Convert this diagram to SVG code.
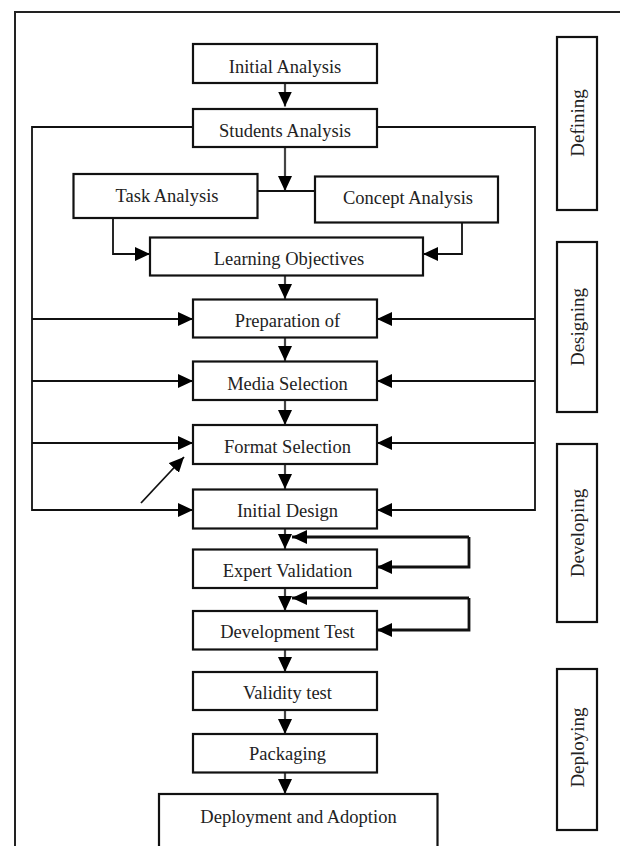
<svg xmlns="http://www.w3.org/2000/svg" width="620" height="846" viewBox="0 0 620 846">
<style>
.box{fill:#fff;stroke:#111;stroke-width:2.2}
.ph{fill:#fff;stroke:#111;stroke-width:2.2}
.t{font-family:"Liberation Serif","Times New Roman",serif;font-size:18.5px;fill:#222;text-anchor:middle}
.pt{font-size:19px}
.c{fill:none;stroke:#111;stroke-width:1.8}
.stem{fill:none;stroke:#444;stroke-width:2.2}
.thick{fill:none;stroke:#111;stroke-width:2.8}
</style>
<defs>
<marker id="ah" viewBox="0 0 15 14" markerWidth="15" markerHeight="14" refX="15" refY="7" orient="auto" markerUnits="userSpaceOnUse">
<path d="M0,0 L15,7 L0,14 z" fill="#000"/>
</marker>
</defs>
<rect x="15" y="12" width="640" height="860" fill="none" stroke="#222" stroke-width="2"/>

<g id="connectors">
<line class="stem" x1="285" y1="83" x2="285" y2="106.5" marker-end="url(#ah)"/>
<line class="stem" x1="285" y1="147" x2="285" y2="191" stroke-width="3" marker-end="url(#ah)"/>
<line class="c" x1="258" y1="191" x2="315" y2="191"/>
<polyline class="c" points="113,218 113,254 150,254" stroke-width="2.2" marker-end="url(#ah)"/>
<polyline class="c" points="462,222 462,254 423,254" stroke-width="2.2" marker-end="url(#ah)"/>
<line class="stem" x1="285" y1="276" x2="285" y2="299" marker-end="url(#ah)"/>
<line class="stem" x1="285" y1="338" x2="285" y2="361" marker-end="url(#ah)"/>
<line class="stem" x1="285" y1="400" x2="285" y2="425" marker-end="url(#ah)"/>
<line class="stem" x1="285" y1="464" x2="285" y2="489" marker-end="url(#ah)"/>
<line class="stem" x1="285" y1="528" x2="285" y2="549" marker-end="url(#ah)"/>
<line class="stem" x1="285" y1="588" x2="285" y2="611" marker-end="url(#ah)"/>
<line class="stem" x1="285" y1="649" x2="285" y2="672" marker-end="url(#ah)"/>
<line class="stem" x1="285" y1="710" x2="285" y2="734" marker-end="url(#ah)"/>
<line class="stem" x1="285" y1="773" x2="285" y2="794" marker-end="url(#ah)"/>
<polyline class="c" points="193,127 32,127 32,510 193,510" marker-end="url(#ah)"/>
<line class="c" x1="32" y1="319" x2="193" y2="319" marker-end="url(#ah)"/>
<line class="c" x1="32" y1="381" x2="193" y2="381" marker-end="url(#ah)"/>
<line class="c" x1="32" y1="443" x2="193" y2="443" marker-end="url(#ah)"/>
<polyline class="c" points="377,127 535,127 535,510 377,510" marker-end="url(#ah)"/>
<line class="c" x1="535" y1="319" x2="377" y2="319" marker-end="url(#ah)"/>
<line class="c" x1="535" y1="381" x2="377" y2="381" marker-end="url(#ah)"/>
<line class="c" x1="535" y1="443" x2="377" y2="443" marker-end="url(#ah)"/>
<line class="c" x1="141" y1="503" x2="184" y2="457" marker-end="url(#ah)"/>
<line class="thick" x1="469" y1="537" x2="292" y2="537" marker-end="url(#ah)"/>
<polyline class="thick" points="469,537 469,567 377,567" marker-end="url(#ah)"/>
<line class="thick" x1="469" y1="598" x2="292" y2="598" marker-end="url(#ah)"/>
<polyline class="thick" points="469,598 469,630 377,630" marker-end="url(#ah)"/>
</g>

<g id="initial-analysis"><rect class="box" x="193" y="44" width="184" height="39"/><text class="t" x="285" y="72.5">Initial Analysis</text></g>
<g id="students-analysis"><rect class="box" x="193" y="109" width="184" height="38"/><text class="t" x="285" y="136.5">Students Analysis</text></g>
<g id="task-analysis"><rect class="box" x="73.5" y="174" width="184" height="44"/><text class="t" x="167" y="201.5">Task Analysis</text></g>
<g id="concept-analysis"><rect class="box" x="315" y="176.5" width="183" height="46"/><text class="t" x="408" y="204">Concept Analysis</text></g>
<g id="learning-objectives"><rect class="box" x="150" y="237.5" width="273" height="38"/><text class="t" x="289" y="265">Learning Objectives</text></g>
<g id="preparation"><rect class="box" x="193" y="299.5" width="184" height="38"/><text class="t" x="287.5" y="326.5">Preparation of</text></g>
<g id="media-selection"><rect class="box" x="193" y="361.5" width="184" height="38.5"/><text class="t" x="287.5" y="390">Media Selection</text></g>
<g id="format-selection"><rect class="box" x="193" y="425" width="184" height="39"/><text class="t" x="287.5" y="453">Format Selection</text></g>
<g id="initial-design"><rect class="box" x="193" y="489.5" width="184" height="39"/><text class="t" x="287.5" y="517">Initial Design</text></g>
<g id="expert-validation"><rect class="box" x="193" y="549.5" width="184" height="38.5"/><text class="t" x="287.5" y="577">Expert Validation</text></g>
<g id="development-test"><rect class="box" x="193" y="611" width="184" height="38.5"/><text class="t" x="287.5" y="638">Development Test</text></g>
<g id="validity-test"><rect class="box" x="193" y="672" width="184" height="38"/><text class="t" x="287.5" y="698.5">Validity test</text></g>
<g id="packaging"><rect class="box" x="193" y="734" width="184" height="38.5"/><text class="t" x="287.5" y="760">Packaging</text></g>
<g id="deployment"><rect class="box" x="159" y="794" width="278.5" height="70"/><text class="t" x="298.5" y="822.5">Deployment and Adoption</text></g>

<g id="phase-defining"><rect class="ph" x="557" y="37" width="40" height="173"/><text class="t pt" transform="translate(584,123) rotate(-90)">Defining</text></g>
<g id="phase-designing"><rect class="ph" x="557" y="242" width="40" height="170"/><text class="t pt" transform="translate(584,327) rotate(-90)">Designing</text></g>
<g id="phase-developing"><rect class="ph" x="557" y="444" width="40" height="178"/><text class="t pt" transform="translate(584,533) rotate(-90)">Developing</text></g>
<g id="phase-deploying"><rect class="ph" x="557" y="669" width="40" height="161"/><text class="t pt" transform="translate(584,747.5) rotate(-90)">Deploying</text></g>
</svg>
